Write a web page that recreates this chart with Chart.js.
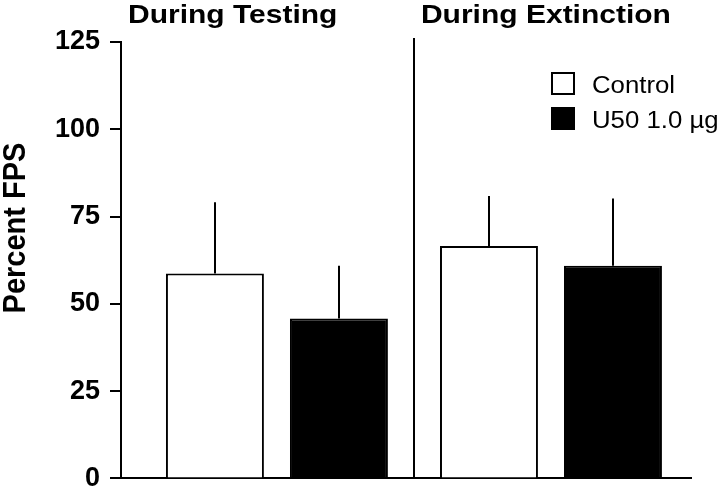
<!DOCTYPE html>
<html>
<head>
<meta charset="utf-8">
<script src="https://cdn.jsdelivr.net/npm/chart.js@4/dist/chart.umd.min.js"></script>
<style>
    body { margin: 0; background: #fff; }
    canvas { display: block; }
</style>
</head>
<body>
<canvas id="fpsChart" width="720" height="490"></canvas>
<script>
// phases (x groups) and the two treatment groups
const phases = ["During Testing", "During Extinction"];
const seriesNames = ["Control", "U50 1.0 \u00b5g"];

// mean percent FPS per phase
const controlMeans = [58.7, 66.6];
const u50Means = [45.8, 60.9];

// upper error bar length (SEM)
const controlErr = [20.4, 14.3];
const u50Err = [15.1, 19.3];

const yTicks = [0, 25, 50, 75, 100, 125];
const yTitle = "Percent FPS";

function toPoints(values) {
    return values.map((v, i) => ({ x: i, y: v }));
}

const errors = [controlErr, u50Err];

// draws error bars, phase separator, phase titles, legend and y title
const extrasPlugin = {
    id: "extras",
    afterDatasetsDraw(chart) {
        let ctx = chart.ctx;
        let xScale = chart.scales.x;
        let yScale = chart.scales.y;
        let area = chart.chartArea;

        ctx.save();
        ctx.strokeStyle = "#000";
        ctx.lineWidth = 2;

        // error bars, upward only
        chart.data.datasets.forEach((ds, d) => {
            let meta = chart.getDatasetMeta(d);
            meta.data.forEach((bar, i) => {
                let top = yScale.getPixelForValue(ds.data[i].y + errors[d][i]);
                ctx.beginPath();
                ctx.moveTo(Math.round(bar.x), bar.y);
                ctx.lineTo(Math.round(bar.x), top);
                ctx.stroke();
            });
        });

        // separator between the two phases
        let sepX = Math.round(xScale.getPixelForValue(0.5));
        ctx.beginPath();
        ctx.moveTo(sepX, area.top - 4);
        ctx.lineTo(sepX, area.bottom);
        ctx.stroke();

        // phase titles, left aligned in each section
        ctx.fillStyle = "#000";
        ctx.font = "bold 25px 'Liberation Sans', Arial, sans-serif";
        ctx.textAlign = "left";
        ctx.textBaseline = "alphabetic";
        phases.forEach((p, i) => {
            let startX = i === 0 ? area.left : xScale.getPixelForValue(i - 0.5);
            ctx.save();
            ctx.translate(startX + 7, 23);
            ctx.scale(1.2, 1);
            ctx.fillText(p, 0, 0);
            ctx.restore();
        });

        // legend
        ctx.font = "23px 'Liberation Sans', Arial, sans-serif";
        chart.data.datasets.forEach((ds, d) => {
            let boxY = 73 + d * 35;
            ctx.fillStyle = ds.backgroundColor;
            ctx.fillRect(552, boxY, 22, 21);
            ctx.strokeRect(552, boxY, 22, 21);
            ctx.fillStyle = "#000";
            ctx.save();
            ctx.translate(592, boxY + 20);
            ctx.scale(1.12, 1);
            ctx.fillText(ds.label, 0, 0);
            ctx.restore();
        });

        // y axis title
        ctx.font = "bold 29px 'Liberation Sans', Arial, sans-serif";
        ctx.textAlign = "center";
        ctx.save();
        ctx.translate(25, 228);
        ctx.scale(1.1, 1);
        ctx.rotate(-Math.PI / 2);
        ctx.fillText(yTitle, 0, 0);
        ctx.restore();

        ctx.restore();
    }
};

const ctx = document.getElementById("fpsChart").getContext("2d");

new Chart(ctx, {
    type: "bar",
    data: {
        datasets: [
            {
                label: seriesNames[0],
                data: toPoints(controlMeans),
                backgroundColor: "#fff",
                borderColor: "#000",
                borderWidth: 2
            },
            {
                label: seriesNames[1],
                data: toPoints(u50Means),
                backgroundColor: "#000",
                borderColor: "#000",
                borderWidth: 2
            }
        ]
    },
    options: {
        responsive: false,
        animation: false,
        categoryPercentage: 0.905,
        barPercentage: 0.79,
        layout: { padding: { top: 42, right: 29, bottom: 0, left: 0 } },
        plugins: {
            legend: { display: false },
            tooltip: { enabled: false }
        },
        scales: {
            x: {
                type: "linear",
                min: -0.569,
                max: 1.511,
                offset: false,
                afterBuildTicks: scale => {
                    scale.ticks = phases.map((p, i) => ({ value: i }));
                },
                ticks: { display: false },
                grid: { display: false },
                border: { display: true, color: "#000", width: 2 },
                afterFit: scale => { scale.height = 1; }
            },
            y: {
                min: 0,
                max: 125,
                afterBuildTicks: scale => {
                    scale.ticks = yTicks.map(v => ({ value: v }));
                },
                ticks: {
                    color: "#000",
                    padding: 10,
                    font: { family: "'Liberation Sans', Arial, sans-serif", size: 27, weight: "bold", lineHeight: 0.12 }
                },
                grid: {
                    drawOnChartArea: false,
                    drawTicks: true,
                    tickLength: 11,
                    color: "#000",
                    lineWidth: 2
                },
                border: { color: "#000", width: 2 },
                afterFit: scale => { scale.width = 121; }
            }
        }
    },
    plugins: [extrasPlugin]
});
</script>
</body>
</html>
